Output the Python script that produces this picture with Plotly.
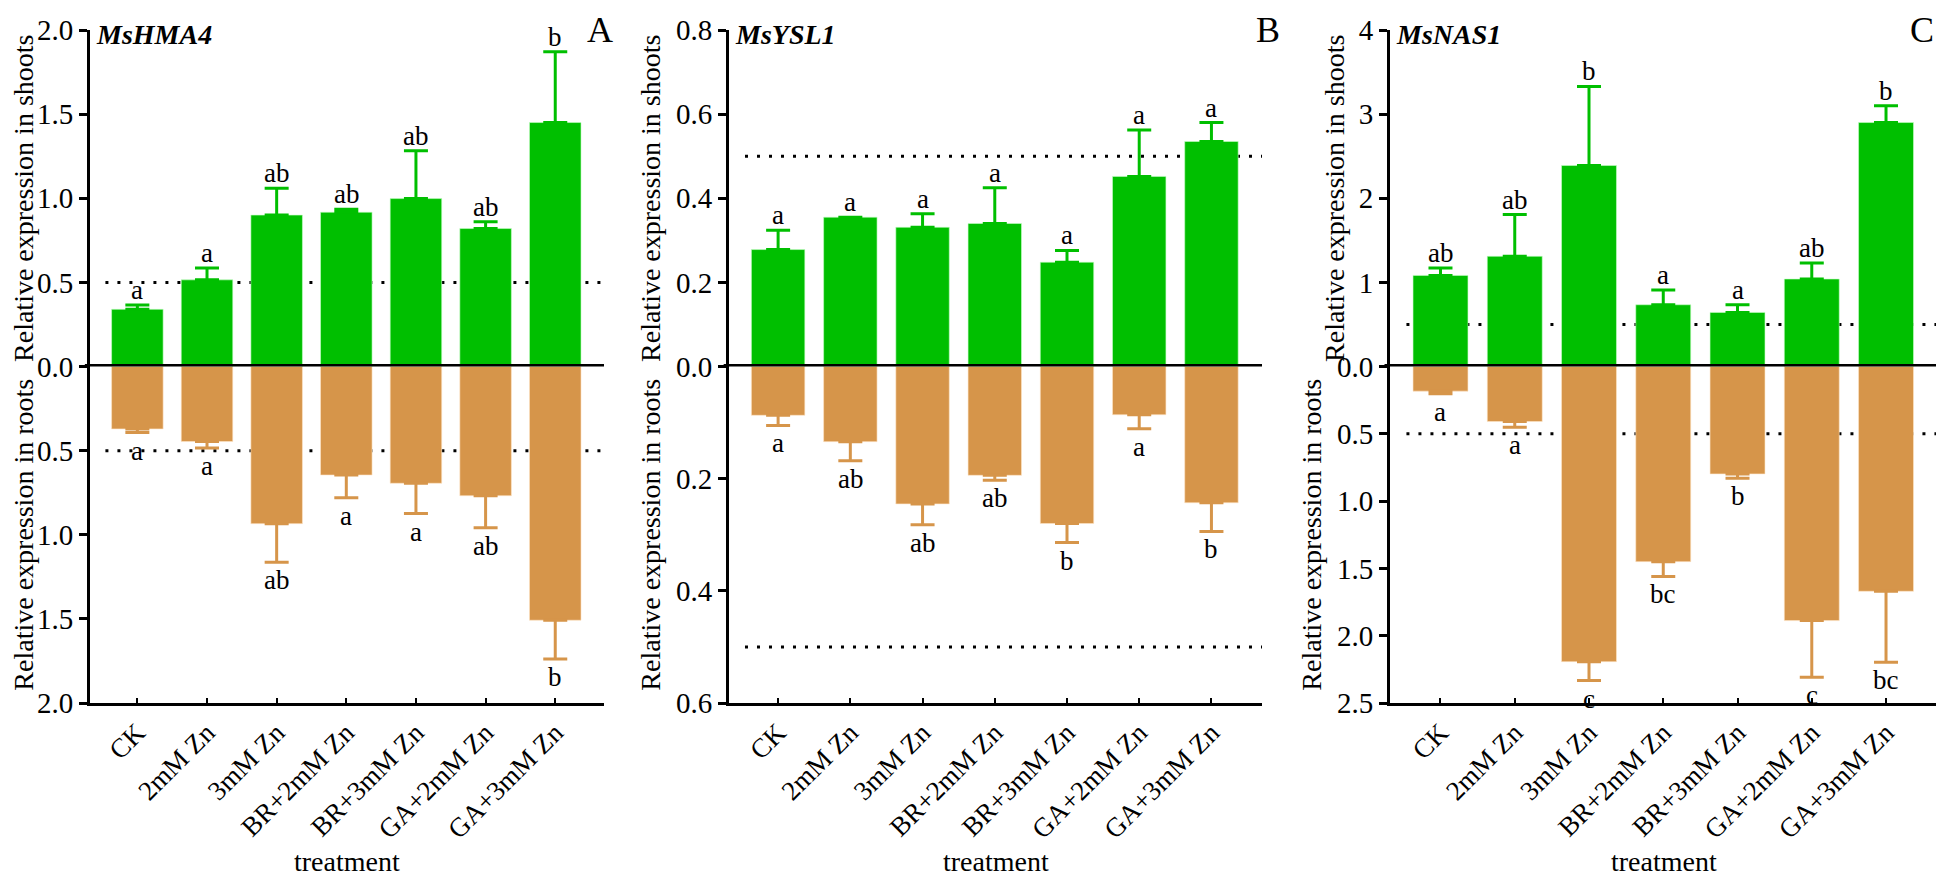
import plotly.graph_objects as go

categories = ["CK", "2mM Zn", "3mM Zn", "BR+2mM Zn", "BR+3mM Zn", "GA+2mM Zn", "GA+3mM Zn"]

# Panel A: MsHMA4
a_shoot = [0.34, 0.515, 0.90, 0.917, 0.998, 0.82, 1.45]
a_shoot_err = [0.026, 0.07, 0.16, 0.018, 0.285, 0.04, 0.42]
a_shoot_lab = ["a", "a", "ab", "ab", "ab", "ab", "b"]
a_root = [0.371, 0.446, 0.934, 0.645, 0.694, 0.768, 1.508]
a_root_err = [0.022, 0.038, 0.23, 0.135, 0.18, 0.19, 0.23]
a_root_lab = ["a", "a", "ab", "a", "a", "ab", "b"]

# Panel B: MsYSL1
b_shoot = [0.278, 0.355, 0.331, 0.340, 0.248, 0.452, 0.535]
b_shoot_err = [0.046, 0.0, 0.032, 0.085, 0.028, 0.11, 0.045]
b_shoot_lab = ["a", "a", "a", "a", "a", "a", "a"]
b_root = [0.087, 0.134, 0.245, 0.194, 0.280, 0.086, 0.243]
b_root_err = [0.018, 0.034, 0.037, 0.009, 0.034, 0.025, 0.051]
b_root_lab = ["a", "ab", "ab", "ab", "b", "a", "b"]

# Panel C: MsNAS1
c_shoot = [1.083, 1.31, 2.389, 0.734, 0.643, 1.04, 2.90]
c_shoot_err = [0.087, 0.496, 0.94, 0.175, 0.091, 0.19, 0.2]
c_shoot_lab = ["ab", "ab", "b", "a", "a", "ab", "b"]
c_root = [0.183, 0.409, 2.193, 1.45, 0.798, 1.888, 1.67]
c_root_err = [0.02, 0.042, 0.14, 0.11, 0.032, 0.42, 0.528]
c_root_lab = ["a", "a", "c", "bc", "b", "c", "bc"]

genes = ["MsHMA4", "MsYSL1", "MsNAS1"]
panel_letters = ["A", "B", "C"]

top_ranges = [[0, 2.0], [0, 0.8], [0, 4]]
bot_ranges = [[2.0, 0], [0.6, 0], [2.5, 0]]
top_ticks = [[0, 0.5, 1.0, 1.5, 2.0], [0, 0.2, 0.4, 0.6, 0.8], [1, 2, 3, 4]]
top_ticktext = [["0.0", "0.5", "1.0", "1.5", "2.0"], ["0.0", "0.2", "0.4", "0.6", "0.8"], ["1", "2", "3", "4"]]
bot_ticks = [[0.5, 1.0, 1.5, 2.0], [0.2, 0.4, 0.6], [0, 0.5, 1.0, 1.5, 2.0, 2.5]]
bot_ticktext = [["0.5", "1.0", "1.5", "2.0"], ["0.2", "0.4", "0.6"], ["0.0", "0.5", "1.0", "1.5", "2.0", "2.5"]]
ref_level = 0.5

GREEN = "#00BF00"
ORANGE = "#D6954A"
FONT = "Liberation Serif"

# page offset from the default 8px body margin
OFF = 8
W, H = 1944 - OFF, 883 - OFF
ML, MR, MT, MB = 90 - OFF, 6, 30 - OFF, 180
PW = W - ML - MR
PH = H - MT - MB

def px_x(p):
    return (p - OFF - ML) / PW

def px_y(p):
    return (OFF + H - MB - p) / PH

domains = [[0.0, px_x(604)], [px_x(729), px_x(1262)], [px_x(1390), 1.0]]
top_standoff = [26, 8, 6]
bot_standoff = [26, 8, 8]

data = [
    (a_shoot, a_shoot_err, a_shoot_lab, a_root, a_root_err, a_root_lab),
    (b_shoot, b_shoot_err, b_shoot_lab, b_root, b_root_err, b_root_lab),
    (c_shoot, c_shoot_err, c_shoot_lab, c_root, c_root_err, c_root_lab),
]

fig = go.Figure()
annotations = []
shapes = []
layout = {}

for i, (s, se, sl, r, re_, rl) in enumerate(data):
    xn = "x" if i == 0 else f"x{i+1}"
    yt = f"y{2*i+1}" if i > 0 else "y"
    yb = f"y{2*i+2}"
    xkey = "xaxis" if i == 0 else f"xaxis{i+1}"
    ytkey = "yaxis" if i == 0 else f"yaxis{2*i+1}"
    ybkey = f"yaxis{2*i+2}"

    fig.add_trace(go.Bar(
        x=categories, y=s, xaxis=xn, yaxis=yt, width=0.74,
        marker=dict(color=GREEN, line=dict(color="rgba(200,255,200,0.6)", width=1)),
        error_y=dict(type="data", array=se, arrayminus=[0] * len(se), symmetric=False,
                     color=GREEN, thickness=3, width=12),
        showlegend=False, cliponaxis=False,
    ))
    fig.add_trace(go.Bar(
        x=categories, y=r, xaxis=xn, yaxis=yb, width=0.74,
        marker=dict(color=ORANGE, line=dict(color="rgba(255,230,200,0.6)", width=1)),
        error_y=dict(type="data", array=re_, arrayminus=[0] * len(re_), symmetric=False,
                     color=ORANGE, thickness=3, width=12),
        showlegend=False, cliponaxis=False,
    ))

    layout[xkey] = dict(
        domain=domains[i], anchor=yb, type="category", categoryorder="array",
        categoryarray=categories, range=[-0.68, 6.7], automargin=False,
        showline=True, linewidth=3, linecolor="black",
        ticks="inside", ticklen=5, tickwidth=2, tickcolor="black",
        tickangle=-45, tickfont=dict(family=FONT, size=27, color="black"),
        showgrid=False, zeroline=False,
    )
    layout[ytkey] = dict(
        domain=[0.5, 1.0], anchor=xn, range=top_ranges[i], automargin=False,
        tickvals=top_ticks[i], ticktext=top_ticktext[i],
        showline=True, linewidth=3, linecolor="black",
        ticks="outside", ticklen=8, tickwidth=3, tickcolor="black",
        tickfont=dict(family=FONT, size=29, color="black"),
        title=dict(text="Relative expression in shoots", font=dict(family=FONT, size=28, color="black"),
                   standoff=top_standoff[i]),
        showgrid=False, zeroline=False,
    )
    layout[ybkey] = dict(
        domain=[0.0, 0.5], anchor=xn, range=bot_ranges[i], automargin=False,
        tickvals=bot_ticks[i], ticktext=bot_ticktext[i],
        showline=True, linewidth=3, linecolor="black",
        ticks="outside", ticklen=8, tickwidth=3, tickcolor="black",
        tickfont=dict(family=FONT, size=29, color="black"),
        title=dict(text="Relative expression in roots", font=dict(family=FONT, size=28, color="black"),
                   standoff=bot_standoff[i]),
        showgrid=False, zeroline=False,
    )

    # reference dotted lines
    shapes.append(dict(type="line", xref=f"{xn} domain", x0=0.03, x1=1.0, yref=yt, y0=ref_level, y1=ref_level,
                       line=dict(color="black", width=3, dash="3px,9px"), layer="below"))
    shapes.append(dict(type="line", xref=f"{xn} domain", x0=0.03, x1=1.0, yref=yb, y0=ref_level, y1=ref_level,
                       line=dict(color="black", width=3, dash="3px,9px"), layer="below"))
    # thick zero line
    shapes.append(dict(type="line", xref=f"{xn} domain", x0=-0.01, x1=1.0, yref=yt, y0=0, y1=0,
                       line=dict(color="black", width=5), layer="above"))

    # x-axis title
    d0, d1 = domains[i]
    annotations.append(dict(x=(d0 + d1) / 2, y=px_y(861), xref="paper", yref="paper",
                            text="treatment", showarrow=False, xanchor="center", yanchor="middle",
                            font=dict(family=FONT, size=28, color="black")))

    # significance letters
    for c, v, e, t in zip(categories, s, se, sl):
        annotations.append(dict(x=c, y=v + e, xref=xn, yref=yt, text=t, showarrow=False,
                                yanchor="bottom", yshift=-2,
                                font=dict(family=FONT, size=27, color="black")))
    for c, v, e, t in zip(categories, r, re_, rl):
        annotations.append(dict(x=c, y=v + e, xref=xn, yref=yb, text=t, showarrow=False,
                                yanchor="top", yshift=-1,
                                font=dict(family=FONT, size=27, color="black")))

    # gene name
    annotations.append(dict(x=0, xref=f"{xn} domain", xanchor="left", xshift=4,
                            y=1.0, yref="paper", yanchor="middle", yshift=-4,
                            text=f"<b><i>{genes[i]}</i></b>", showarrow=False,
                            font=dict(family=FONT, size=28, color="black")))

# panel letters
for t, xp in zip(panel_letters, [600, 1268, 1922]):
    annotations.append(dict(x=px_x(xp), y=px_y(9), xref="paper", yref="paper", text=t,
                            showarrow=False, xanchor="center", yanchor="top", borderpad=0,
                            font=dict(family=FONT, size=36, color="black")))

fig.update_layout(
    width=W, height=H,
    margin=dict(l=ML, r=MR, t=MT, b=MB, autoexpand=False),
    paper_bgcolor="white", plot_bgcolor="white",
    barmode="overlay",
    annotations=annotations, shapes=shapes,
    font=dict(family=FONT, color="black"),
    **layout,
)

fig.write_html("out.html")
